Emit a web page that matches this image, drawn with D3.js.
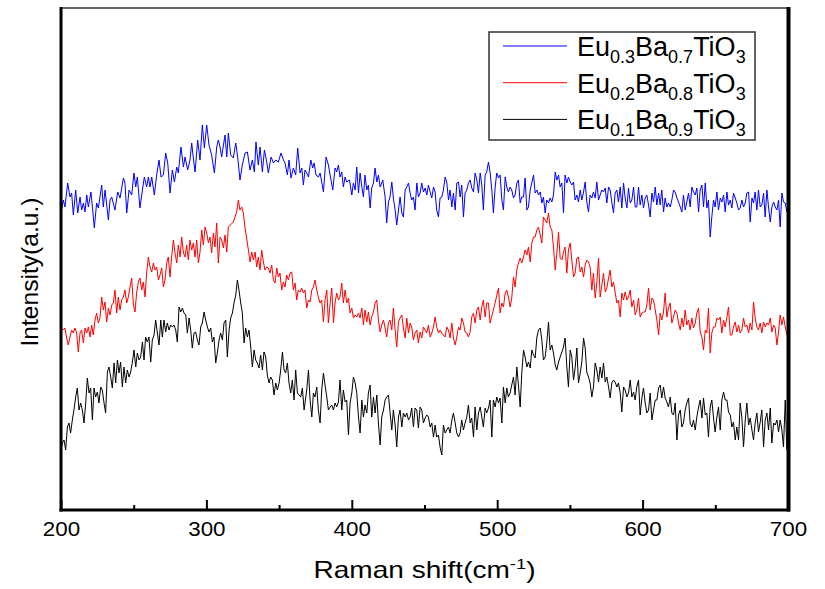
<!DOCTYPE html>
<html>
<head>
<meta charset="utf-8">
<script src="https://cdn.jsdelivr.net/npm/d3@7"></script>
<style>
  body { margin: 0; background: #fff; }
  svg { display: block; }
  text { font-family: Arial, "Liberation Sans", sans-serif; fill: #000; }
</style>
</head>
<body>
<svg id="chart" width="825" height="589"></svg>
<script>

// ---- data (Raman shift cm-1, intensity a.u., offsets included) ----

var shiftTicks = [ 200, 300, 400, 500, 600, 700 ];
var minorTicks = [ 250, 350, 450, 550, 650 ];

var seriesColors = [ '#0000ff', '#ff0000', '#000000' ];

// each label: [ text, isSubscript ]
var seriesLabels = [
    [ [ 'Eu', 0 ], [ '0.3', 1 ], [ 'Ba', 0 ], [ '0.7', 1 ], [ 'TiO', 0 ], [ '3', 1 ] ],
    [ [ 'Eu', 0 ], [ '0.2', 1 ], [ 'Ba', 0 ], [ '0.8', 1 ], [ 'TiO', 0 ], [ '3', 1 ] ],
    [ [ 'Eu', 0 ], [ '0.1', 1 ], [ 'Ba', 0 ], [ '0.9', 1 ], [ 'TiO', 0 ], [ '3', 1 ] ]
];

var eu03 = [[200,297],[201.6,310],[202.7,303],[204.6,327],[206.2,313],[207.3,317],[208.5,295],[210.1,320],[211.5,297],[213.1,313],[214.2,300],[215.4,307],[216.5,298],[217.7,315],[218.8,303],[220.6,318],[221.8,300],[222.9,282],[224.5,307],[225.7,302],[228,325],[229.1,303],[230.3,320],[232.6,290],[233.7,310],[234.9,313],[237.1,300],[239,318],[240.6,312],[242.9,332],[244,327],[245.2,297],[246.8,320],[248.6,315],[250.2,337],[251.4,323],[252.5,333],[254.3,302],[256,320],[257.3,333],[258.9,323],[260.1,333],[261.2,323],[262.4,333],[264.2,315],[265.8,335],[267.4,350],[268.8,333],[270.4,335],[272,357],[273.4,347],[275,317],[276.6,340],[278,328],[279.6,343],[280.7,337],[282.5,363],[284.2,343],[285.3,353],[287.1,340],[288.7,350],[289.9,367],[291,352],[292.2,338],[294,370],[295.6,350],[297.2,385],[298.6,362],[300.2,385],[301.8,365],[303.6,355],[305.5,337],[307.1,363],[308.2,370],[309.4,363],[310.5,353],[312.8,375],[314,353],[315.1,377],[316.7,355],[318.5,352],[320.2,367],[321.5,353],[323.1,330],[324.7,345],[326.6,357],[328.2,358],[330,340],[331.6,350],[333,338],[334.1,368],[335.7,345],[336.9,363],[338.5,338],[339.9,360],[341.5,348],[342.6,337],[344.5,353],[346.1,347],[347.7,350],[349.5,348],[351.3,357],[353,350],[354.1,347],[355.7,335],[356.8,350],[358.2,332],[359.8,342],[361.4,335],[362.8,362],[364.4,337],[365.6,342],[366.7,325],[367.8,340],
[369,337],[370.2,333],[371.8,350],[373.1,342],[374.1,347],[375.4,335],[377,333],[378.2,337],[379.3,328],[380.5,318],[382.3,353],[383.9,345],[385.1,335],[386.9,320],[388.5,342],[389.6,338],[390.8,345],[391.9,333],[393.1,338],[394.2,323],[395.4,333],[396.5,328],[398.4,330],[400,315],[401.1,327],[402.3,320],[403.4,343],[404.6,317],[405.7,337],[406.9,323],[408,313],[409.1,335],[410.3,320],[411.4,325],[412.6,302],[413.7,322],[414.9,327],[416,342],[417.2,328],[418.3,335],[419.5,323],[421.3,330],[422.9,313],[424,287],[425.2,308],[426.3,313],[427.5,328],[428.6,312],[429.8,300],[430.9,285],[432.1,300],[433.2,313],[434.4,297],[435.5,293],[436.7,320],[437.8,323],[439,327],[440.1,317],[441.2,310],[442.4,313],[443.5,300],[444.7,327],[445.8,313],[447,317],[448.1,327],[449.3,318],[450.4,322],[451.6,315],[452.7,325],[453.9,318],[455,312],[456.2,323],[457.3,318],[458.4,300],[459.6,293],[460.7,312],[461.9,313],[463,320],[464.2,333],[465.3,328],[466.5,310],[467.6,320],[468.8,303],[469.9,317],[471.1,300],[472.2,327],[473.4,328],[474.5,313],[475.6,325],[476.8,293],[477.9,317],[479.1,320],[480.2,327],[481.4,330],[482.5,322],[483.7,318],[484.8,337],[486,330],[487.1,317],[488.3,337],[489.4,325],[490.5,300],[491.7,335],[492.8,338],[494,348],[495.1,338],[496.3,320],[497.4,297],[498.6,323],[499.7,337],[500.9,332],[502,335],[503.2,310],[504.3,300],[505.5,333],[506.6,323],[507.7,318],[508.9,323],[510,320],[511.2,312],[512.3,315],[513.5,327],[514.6,330],[515.8,307],[516.9,313],[518.1,313],[519.2,332],[520.4,300],[521.5,303],[522.7,320],
[525,335],[526.1,317],[527.3,320],[528.4,315],[529.6,318],[530.7,307],[531.8,313],[533,297],[534.1,310],[535.3,307],[536.4,312],[537.6,308],[538.7,315],[539.9,338],[541,330],[542.2,335],[543.3,323],[544.5,327],[545.6,297],[546.7,335],[547.9,327],[549,333],[550.2,328],[551.3,325],[552.5,328],[553.6,310],[554.8,315],[555.9,308],[557.1,320],[558.2,310],[559.4,318],[560.5,328],[561.6,308],[562.8,298],[563.9,315],[565.1,312],[566.2,318],[567.4,312],[568.5,328],[569.7,310],[570.8,315],[572,320],[573.1,318],[574.3,322],[575.4,307],[576.6,323],[577.7,320],[578.8,308],[580,297],[581.1,317],[582.3,320],[583.4,308],[584.6,323],[585.7,302],[586.9,327],[588,312],[589.2,302],[590.3,322],[591.5,307],[592.6,310],[593.8,323],[594.9,303],[596,303],[597.2,323],[598.3,305],[599.5,315],[600.6,302],[601.8,312],[602.9,315],[604.1,305],[605.2,293],[606.4,317],[607.5,308],[608.7,323],[609.8,305],[611,317],[612.1,305],[613.2,320],[614.4,298],[615.5,312],[616.7,303],[617.8,307],[619,303],[620.1,310],[621.3,320],[622.4,318],[623.6,312],[624.7,308],[625.9,303],[627,298],[628.1,315],[629.3,300],[630.4,308],[631.6,317],[632.7,303],[633.9,323],[635,318],[636.2,315],[637.3,322],[638.5,298],[639.6,320],[640.8,325],[641.9,303],[643.1,327],[644.2,302],[645.3,310],[646.5,273],[647.6,293],[648.8,310],[649.9,303],[651.1,318],[652.2,300],[653.4,312],[654.5,308],[655.7,315],[656.8,298],[658,318],[659.1,305],[660.3,310],[661.4,302],[662.5,317],[663.7,312],[664.8,307],[666,300],[667.1,302],[668.3,310],[669.4,303],[670.6,307],[671.7,317],[672.9,318],[674,288],[675.2,312],[676.3,307],[677.4,318],[678.6,300],[679.7,320],[680.9,303],[682,305],[683.2,317],[684.3,293],[685.5,320],[686.6,303],[687.8,288],[688.9,303],[690.1,308],[691.2,303],[692.4,300],[693.5,310],[694.6,283],[695.8,317],[696.9,308],[698.1,307],[699.2,298]];

var eu02 = [[200,183],[201.6,180],[202.7,182],[203.9,172],[205,165],[206.2,173],[207.3,180],[208.5,177],[209.6,182],[210.8,177],[211.9,158],[213.1,177],[214.2,180],[215.4,167],[216.5,182],[217.7,177],[218.8,183],[220,173],[221.1,185],[222.2,175],[223.4,190],[224.5,197],[225.7,187],[226.8,192],[228,213],[229.1,200],[230.3,208],[231.4,188],[232.6,202],[233.7,195],[234.9,205],[236,207],[237.1,220],[238.3,197],[239.4,213],[240.6,200],[241.7,210],[242.9,213],[244,220],[245.2,207],[246.3,213],[247.5,223],[248.6,232],[249.8,205],[250.9,198],[252,217],[253.2,228],[254.3,232],[255.5,220],[256.6,228],[257.8,213],[258.9,237],[260.1,253],[261.2,243],[262.4,238],[263.5,247],[264.7,240],[265.8,243],[267,230],[268.1,235],[269.3,242],[270.4,223],[271.5,230],[272.7,247],[273.8,253],[275,233],[276.1,253],[277.3,270],[278.4,257],[279.6,247],[280.7,265],[281.9,253],[283,273],[284.2,257],[285.3,253],[286.4,265],[287.6,250],[288.7,270],[289.9,260],[291,267],[292.2,253],[293.3,270],[294.5,247],[295.6,258],[296.8,280],[297.9,265],[299.1,283],[300.2,277],[301.4,267],[302.5,273],[303.6,257],[304.8,277],[305.9,263],[307.1,287],[308.2,247],[309.4,273],[310.5,270],[311.7,262],[312.8,275],[314,258],[315.1,283],[318.5,288],[319.7,293],[320.8,298],[322,310],[323.1,300],[324.3,303],[325.4,297],[326.6,282],[328.9,260],[330,248],[331.2,258],[332.3,250],[333.5,258],[334.6,243],[335.7,253],[336.9,240],[338,260],[339.2,248],[340.3,240],[341.5,243],[342.6,242],[343.8,237],[344.9,245],[346.1,230],[347.2,227],[348.4,242],[349.5,233],[350.6,237],[351.8,220],[352.9,228],[354.1,223],[355.2,235],[356.4,230],[357.5,237],[358.7,238],[359.8,220],[361,227],[362.1,210],[363.2,220],[364.4,218],[365.5,222],[366.7,217],[367.8,220],
[369,202],[370.2,210],[371.3,208],[372.5,220],[373.6,223],[374.7,230],[375.9,220],[377,213],[378.2,207],[379.3,210],[380.5,188],[381.6,210],[382.8,220],[383.9,187],[385.1,207],[386.2,222],[387.4,187],[388.5,207],[389.6,217],[390.8,210],[391.9,213],[393.1,227],[394.2,207],[395.4,220],[396.5,207],[397.7,212],[398.8,197],[400,202],[401.1,192],[402.3,195],[403.4,193],[404.6,197],[405.7,192],[406.9,202],[408,185],[409.1,200],[410.3,188],[411.4,198],[412.6,185],[413.7,193],[414.9,198],[416,207],[417.2,210],[418.3,190],[419.5,178],[420.6,185],[421.8,190],[422.9,182],[424,173],[425.2,187],[426.3,190],[427.5,180],[428.6,202],[429.8,180],[430.9,163],[432.1,188],[433.2,192],[434.4,195],[435.5,182],[436.7,172],[437.8,192],[439,177],[440.1,187],[441.2,183],[442.4,170],[443.5,177],[444.7,180],[445.8,167],[447,178],[448.1,172],[449.3,183],[450.4,180],[451.6,177],[452.7,185],[453.9,173],[455,177],[456.2,183],[457.3,193],[458.4,183],[459.6,177],[460.7,180],[461.9,177],[463,175],[464.2,173],[465.3,183],[466.5,180],[467.6,172],[468.8,187],[469.9,172],[471.1,165],[472.2,173],[473.4,183],[474.5,180],[475.6,192],[476.8,187],[477.9,178],[479.1,177],[480.2,173],[481.4,178],[482.5,193],[483.7,197],[484.8,187],[486,200],[487.1,203],[488.3,190],[489.4,203],[490.5,210],[491.7,193],[492.8,207],[494,207],[495.1,187],[497.9,203],[500.9,222],[502,197],[503.2,207],[504.3,203],[505.5,217],[506.6,220],[507.7,213],[508.9,203],[510,212],[511.2,233],[512.3,223],[513.5,240],[514.6,247],[515.8,252],[516.9,247],[518.1,253],[519.2,260],[520.4,255],[521.5,263],[522.7,248],[523.8,267],[525,273],
[526.1,273],[527.3,280],[528.4,283],[529.6,275],[530.7,267],[531.8,293],[533,290],[534.1,287],[535.3,297],[536.4,283],[537.6,280],[538.7,263],[539.9,240],[541,257],[542.2,278],[543.3,252],[544.5,250],[545.6,258],[546.7,263],[547.9,237],[549,260],[550.2,267],[551.3,250],[552.5,233],[553.6,237],[554.8,252],[555.9,253],[557.1,238],[558.2,243],[559.4,233],[560.5,245],[561.6,250],[562.8,248],[563.9,243],[565.1,220],[566.2,237],[567.4,212],[568.5,227],[569.7,252],[570.8,213],[572,225],[573.1,237],[574.3,218],[575.4,222],[576.6,232],[577.7,240],[578.8,223],[580,228],[581.1,218],[582.3,207],[583.4,210],[584.6,193],[585.7,217],[586.9,210],[588,218],[589.2,210],[590.3,213],[591.5,220],[592.6,203],[593.8,210],[594.9,195],[596,200],[597.2,212],[598.3,193],[599.5,197],[600.6,198],[601.8,198],[602.9,205],[604.1,222],[605.2,200],[606.4,212],[607.5,210],[608.7,200],[609.8,190],[611,175],[612.1,197],[613.2,190],[614.4,198],[615.5,217],[616.7,193],[617.8,202],[619,207],[620.1,187],[621.3,193],[622.4,200],[623.6,197],[624.7,187],[625.9,180],[627,192],[628.1,183],[629.3,200],[630.4,185],[631.6,190],[632.7,180],[633.9,192],[635,182],[636.2,187],[637.3,197],[638.5,202],[639.6,178],[640.8,173],[641.9,160],[643.1,180],[644.2,177],[645.3,202],[646.5,157],[647.6,177],[648.8,183],[649.9,183],[651.1,192],[652.2,190],[653.4,193],[654.5,177],[655.7,190],[656.8,183],[658,193],[659.1,203],[660.3,175],[661.4,175],[662.5,183],[663.7,188],[664.8,178],[666,185],[667.1,177],[668.3,180],[669.4,192],[670.6,183],[671.7,185],[672.9,177],[674,187],[675.2,180],[676.3,208],[677.4,192],[678.6,183],[679.7,180],[680.9,187],[682,177],[683.2,188],[684.3,183],[685.5,187],[686.6,185],[687.8,192],[688.9,178],[690.1,185],[691.2,182],[692.4,165],[693.5,178],[694.6,195],[695.8,185],[696.9,193],[698.1,183],[699.2,175]];

var eu01 = [[200,60],[200.9,67],[202.1,70],[203.2,60],[204.4,83],[205.5,87],[206.6,77],[207.8,90],[208.9,100],[210.1,113],[211.2,122],[212.4,100],[213.5,107],[214.7,100],[215.8,87],[217,107],[218.1,132],[219.3,117],[220.4,122],[221.6,90],[222.7,122],[223.8,113],[225,118],[226.1,107],[227.3,123],[228.4,120],[229.6,107],[230.7,97],[231.9,138],[233,143],[234.2,133],[235.3,122],[236.5,147],[237.6,127],[238.8,150],[239.9,137],[241,148],[242.2,123],[243.3,143],[244.5,127],[245.6,140],[246.8,133],[247.9,138],[249.1,148],[250.2,160],[251.4,143],[252.5,157],[253.7,150],[254.8,153],[256,168],[257.1,150],[258.2,173],[259.4,168],[260.5,173],[261.7,148],[262.8,170],[264,175],[265.1,190],[266.3,177],[267.4,165],[268.6,190],[269.7,173],[270.8,190],[272,178],[273.1,187],[274.3,180],[275.4,185],[276.6,183],[277.7,185],[278.9,180],[280,168],[281.2,203],[282.3,198],[283.5,202],[284.6,197],[285.8,195],[286.9,177],[288.1,192],[289.2,180],[290.3,162],[291.5,177],[292.6,178],[293.8,170],[294.9,165],[296.1,183],[297.2,187],[298.4,198],[299.5,190],[300.7,183],[301.8,178],[303,182],[304.1,168],[305.2,173],[306.4,147],[307.5,157],[308.7,170],[309.8,177],[311,170],[312.1,187],[313.3,190],[314.4,153],[315.6,180],[316.7,192],[317.9,197],[319,207],[320.2,215],[321.3,230],[322.4,220],[323.6,207],[324.7,197],[325.9,167],[327,182],[328.2,173],[329.3,180],[330.5,163],[331.6,143],[332.8,160],[333.9,150],[335.1,147],[336.2,142],[337.3,155],[338.5,140],[339.6,158],[340.8,153],[341.9,135],[343.1,127],[344.2,133],[345.4,130],[346.5,115],[347.7,127],[348.8,120],[350,127],[351.1,140],[352.3,158],[353.4,140],[354.5,137],[355.7,147],[356.8,127],[358,117],[359.1,130],[360.3,110],[361.4,140],[362.6,117],[363.7,115],[364.9,113],[366,122],[367.2,100],
[369,120],[370.2,140],[371.3,110],[372.5,93],[373.6,117],[374.7,113],[375.9,123],[377,100],[378.2,87],[379.3,120],[380.5,137],[381.6,125],[382.8,113],[383.9,100],[385.1,103],[386.2,105],[387.4,100],[388.5,107],[389.6,103],[390.8,108],[391.9,130],[393.1,100],[394.2,120],[395.4,108],[396.5,110],[397.7,75],[398.8,107],[400,117],[401.1,133],[402.3,127],[403.4,117],[404.6,93],[405.7,77],[406.9,110],[408,93],[409.1,105],[410.3,97],[411.4,117],[412.6,125],[413.7,93],[414.9,113],[416,97],[417.2,115],[418.3,87],[419.5,65],[420.6,93],[421.8,100],[422.9,110],[424,113],[425.2,115],[426.3,98],[427.5,80],[428.6,100],[429.8,85],[430.9,63],[432.1,93],[433.2,100],[434.4,83],[435.5,97],[436.7,93],[437.8,97],[439,90],[440.1,93],[441.2,102],[442.4,83],[443.5,102],[444.7,100],[445.8,82],[447,103],[448.1,100],[449.3,87],[450.4,92],[451.6,95],[452.7,93],[453.9,83],[455,87],[456.2,73],[457.3,85],[458.4,73],[459.6,75],[460.7,63],[461.9,55],[463,85],[464.2,77],[465.3,80],[466.5,83],[467.6,77],[468.8,90],[469.9,97],[471.1,87],[472.2,77],[473.4,73],[474.5,77],[475.6,90],[476.8,80],[477.9,87],[479.1,93],[480.2,105],[481.4,87],[482.5,92],[483.7,73],[484.8,103],[486,80],[487.1,97],[488.3,103],[489.4,93],[490.5,83],[491.7,102],[492.8,97],[494,102],[495.1,110],[496.3,73],[497.4,110],[498.6,103],[499.7,113],[500.9,107],[502,112],[503.2,87],[504.3,123],[505.5,107],[506.6,122],[507.7,113],[508.9,117],[510,125],[511.2,133],[512.3,115],[513.5,143],[514.6,125],[515.8,103],[516.9,137],[518.1,160],[519.2,153],[520.4,143],[521.5,148],[522.7,142],[523.8,160],[525,155],[526.1,152],[527.3,173],[528.4,180],
[529.6,182],[530.7,170],[531.8,150],[533,153],[534.1,167],[535.3,188],[536.4,160],[537.6,165],[538.7,157],[539.9,145],[541,140],[542.2,148],[543.3,153],[544.5,158],[545.6,163],[546.7,172],[547.9,143],[549,123],[550.2,160],[551.3,153],[552.5,130],[553.6,142],[554.8,162],[555.9,127],[557.1,137],[558.2,148],[559.4,172],[560.5,162],[561.6,138],[562.8,133],[563.9,127],[565.1,113],[566.2,123],[567.4,147],[568.5,140],[569.7,128],[570.8,143],[572,132],[573.1,147],[574.3,128],[575.4,133],[576.6,123],[577.7,112],[578.8,127],[580,130],[581.1,128],[582.3,123],[583.4,127],[584.6,117],[585.7,98],[586.9,123],[588,120],[589.2,113],[590.3,117],[591.5,130],[592.6,113],[593.8,118],[594.9,110],[596,123],[597.2,130],[598.3,95],[599.5,112],[600.6,122],[601.8,107],[602.9,97],[604.1,100],[605.2,117],[606.4,90],[607.5,100],[608.7,110],[609.8,110],[611,122],[612.1,125],[613.2,112],[614.4,123],[615.5,112],[616.7,108],[617.8,103],[619,113],[620.1,97],[621.3,95],[622.4,107],[623.6,70],[624.7,95],[625.9,100],[627,83],[628.1,87],[629.3,100],[630.4,107],[631.6,112],[632.7,87],[633.9,83],[635,90],[636.2,80],[637.3,93],[638.5,103],[639.6,110],[640.8,92],[641.9,112],[643.1,95],[644.2,97],[645.3,73],[646.5,103],[647.6,110],[648.8,92],[649.9,78],[651.1,93],[652.2,103],[653.4,80],[654.5,110],[655.7,118],[656.8,110],[658,110],[659.1,98],[660.3,95],[661.4,83],[662.5,88],[663.7,70],[664.8,83],[666,70],[667.1,107],[668.3,92],[669.4,63],[670.6,90],[671.7,107],[672.9,85],[674,92],[675.2,80],[676.3,70],[677.4,87],[678.6,97],[679.7,78],[680.9,88],[682,100],[683.2,63],[684.3,90],[685.5,97],[686.6,80],[687.8,102],[688.9,67],[690.1,87],[691.2,85],[692.4,90],[693.5,78],[694.6,90],[695.8,80],[696.9,63],[698.1,110],[699.2,60]];

var allSeries = [ eu03, eu02, eu01 ];

// ---- layout ----

var width = 825,
    height = 589,
    plotLeft = 61,
    plotRight = 788,
    plotTop = 8,
    plotBottom = 510;

var svg = d3.select('#chart');

var x = d3.scaleLinear()
    .domain([ 200, 700 ])
    .range([ plotLeft, plotRight ]);

var y = d3.scaleLinear()
    .domain([ 0, 502 ])
    .range([ plotBottom, plotTop ]);

svg.append('defs').append('clipPath')
    .attr('id', 'plotClip')
    .append('rect')
    .attr('x', plotLeft)
    .attr('y', plotTop)
    .attr('width', plotRight - plotLeft)
    .attr('height', plotBottom - plotTop);

// spectra

var line = d3.line()
    .x(function ( d ) { return x( d[0] ); })
    .y(function ( d ) { return y( d[1] ); });

svg.append('g')
    .attr('clip-path', 'url(#plotClip)')
    .selectAll('path')
    .data( allSeries )
    .enter().append('path')
    .attr('d', line)
    .attr('fill', 'none')
    .attr('stroke', function ( d, i ) { return seriesColors[i]; })
    .attr('stroke-width', 1)
    .attr('stroke-linejoin', 'round');

// bottom axis, ticks pointing in

var xAxis = d3.axisBottom( x )
    .tickValues( shiftTicks )
    .tickSize( -10 )
    .tickPadding( 12 )
    .tickFormat( d3.format('d') );

var gx = svg.append('g')
    .attr('transform', 'translate(0,' + plotBottom + ')')
    .call( xAxis );

gx.select('.domain').remove();
gx.selectAll('.tick line').attr('stroke', '#000').attr('stroke-width', 2);
gx.selectAll('.tick text')
    .attr('font-size', 20)
    .attr('fill', '#000')
    .style('font-family', 'Arial, "Liberation Sans", sans-serif')
    .attr('transform', 'scale(1.12,1)');

var gxMinor = svg.append('g')
    .attr('transform', 'translate(0,' + plotBottom + ')')
    .call( d3.axisBottom( x ).tickValues( minorTicks ).tickSize( -5 ).tickFormat('') );

gxMinor.select('.domain').remove();
gxMinor.selectAll('.tick line').attr('stroke', '#000').attr('stroke-width', 2);

// frame

svg.append('line')
    .attr('x1', plotLeft).attr('x2', plotRight)
    .attr('y1', plotTop).attr('y2', plotTop)
    .attr('stroke', '#333').attr('stroke-width', 1.5);

svg.append('line')
    .attr('x1', plotLeft).attr('x2', plotLeft)
    .attr('y1', plotTop - 1).attr('y2', plotBottom + 1.5)
    .attr('stroke', '#000').attr('stroke-width', 3);

svg.append('line')
    .attr('x1', plotLeft - 1.5).attr('x2', plotRight + 2)
    .attr('y1', plotBottom).attr('y2', plotBottom)
    .attr('stroke', '#000').attr('stroke-width', 3);

svg.append('line')
    .attr('x1', plotRight + 0.5).attr('x2', plotRight + 0.5)
    .attr('y1', plotTop - 1).attr('y2', plotBottom + 1.5)
    .attr('stroke', '#000').attr('stroke-width', 4);

// axis titles

var xTitle = svg.append('text')
    .attr('transform', 'translate(' + ( plotLeft + plotRight ) / 2 + ',578) scale(1.22,1)')
    .attr('text-anchor', 'middle')
    .attr('font-size', 23);

xTitle.append('tspan').text('Raman shift(cm');
xTitle.append('tspan').attr('font-size', 15).attr('dy', -9).text('-1');
xTitle.append('tspan').attr('dy', 9).text(')');

svg.append('text')
    .attr('transform', 'translate(38,272) rotate(-90) scale(1.07,1)')
    .attr('text-anchor', 'middle')
    .attr('font-size', 23)
    .text('Intensity(a.u.)');

// legend

var legend = svg.append('g');

legend.append('rect')
    .attr('x', 489).attr('y', 32)
    .attr('width', 266).attr('height', 108)
    .attr('fill', '#fff')
    .attr('stroke', '#333')
    .attr('stroke-width', 1.5);

var item = legend.selectAll('.item')
    .data( seriesLabels )
    .enter().append('g')
    .attr('class', 'item')
    .attr('transform', function ( d, i ) { return 'translate(0,' + ( 46 + i * 36.7 ) + ')'; });

item.append('line')
    .attr('x1', 503).attr('x2', 567)
    .attr('stroke', function ( d, i ) { return seriesColors[i]; })
    .attr('stroke-width', 1);

var label = item.append('text')
    .attr('x', 577)
    .attr('y', 10)
    .attr('font-size', 27);

label.selectAll('tspan')
    .data(function ( d ) { return d; })
    .enter().append('tspan')
    .attr('font-size', function ( d ) { return d[1] ? 18 : 27; })
    .attr('dy', function ( d, i, nodes ) {
        var prev = i > 0 ? d3.select( nodes[i - 1] ).datum()[1] : 0;
        if ( d[1] && !prev ) return 7;
        if ( !d[1] && prev ) return -7;
        return 0;
    })
    .text(function ( d ) { return d[0]; });

</script>
</body>
</html>
